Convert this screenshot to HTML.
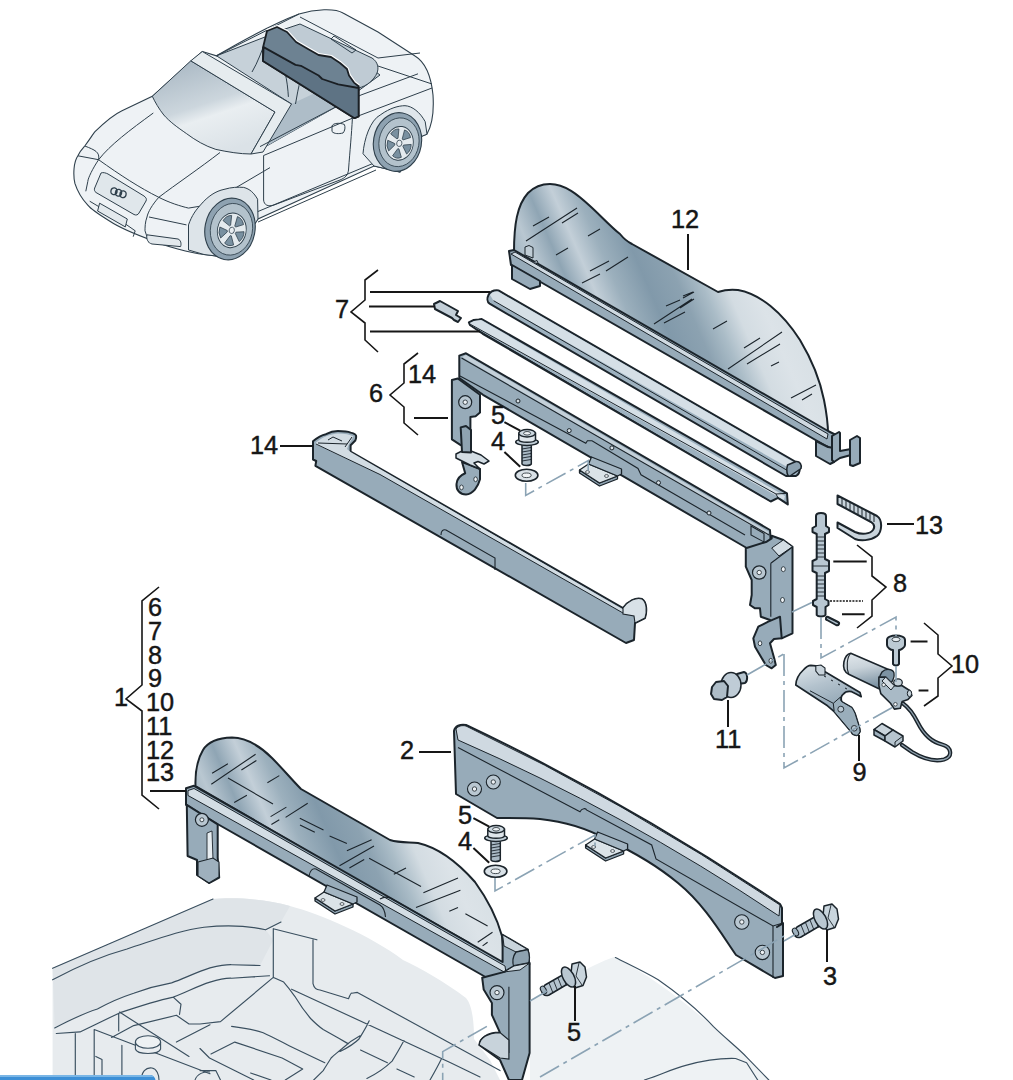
<!DOCTYPE html>
<html><head><meta charset="utf-8">
<style>
html,body{margin:0;padding:0;background:#fff;width:1013px;height:1080px;overflow:hidden}
svg{display:block}
text{font-family:"Liberation Sans",sans-serif;fill:#161616;stroke:#161616;stroke-width:0.45}
.o{stroke:#1b242b;stroke-width:2;stroke-linejoin:round;stroke-linecap:round}
.m{fill:#97abb9}
.ml{fill:#cfd9e1}
.md{fill:#8599a8}
.t{stroke:#1b242b;stroke-width:1.1;fill:none}
.ld{stroke:#161616;stroke-width:2;fill:none}
.br{stroke:#161616;stroke-width:1.6;fill:none;stroke-linejoin:miter}
.da{stroke:#8ba3b4;stroke-width:1.6;fill:none;stroke-dasharray:22 5 4 5}
.cl{stroke:#2e3f4b;stroke-width:1;fill:none}
</style></head><body>
<svg width="1013" height="1080" viewBox="0 0 1013 1080">
<defs>
<linearGradient id="g12" x1="505" y1="300" x2="835" y2="157" gradientUnits="userSpaceOnUse">
<stop offset="0.07" stop-color="#9fb3c0"/>
<stop offset="0.12" stop-color="#b9c7d1"/>
<stop offset="0.18" stop-color="#8fa5b4"/>
<stop offset="0.24" stop-color="#c3cfd8"/>
<stop offset="0.30" stop-color="#9cb0bd"/>
<stop offset="0.38" stop-color="#8199aa"/>
<stop offset="0.46" stop-color="#8ca2b1"/>
<stop offset="0.52" stop-color="#aabcc7"/>
<stop offset="0.58" stop-color="#d3dce2"/>
<stop offset="0.65" stop-color="#dce3e8"/>
<stop offset="0.72" stop-color="#d8e0e5"/>
</linearGradient>
<linearGradient id="g1" x1="185" y1="845" x2="515" y2="702" gradientUnits="userSpaceOnUse">
<stop offset="0.07" stop-color="#9fb3c0"/>
<stop offset="0.12" stop-color="#b9c7d1"/>
<stop offset="0.18" stop-color="#8fa5b4"/>
<stop offset="0.24" stop-color="#c3cfd8"/>
<stop offset="0.30" stop-color="#9cb0bd"/>
<stop offset="0.38" stop-color="#8199aa"/>
<stop offset="0.46" stop-color="#8ca2b1"/>
<stop offset="0.52" stop-color="#aabcc7"/>
<stop offset="0.58" stop-color="#d3dce2"/>
<stop offset="0.65" stop-color="#dce3e8"/>
<stop offset="0.72" stop-color="#d8e0e5"/>
</linearGradient>
<g id="tab">
<path fill="#8fa3b1" stroke="#1b242b" stroke-width="1.3" stroke-linejoin="round" d="M0,0 V3 L20,16 L38,9 V6 L20,13 Z"/>
<path fill="#dbe3e8" stroke="#1b242b" stroke-width="1.3" stroke-linejoin="round" d="M0,0 L9,-6 L38,6 L20,13 Z"/>
<path fill="#a3b5c2" stroke="#1b242b" stroke-width="1.3" stroke-linejoin="round" d="M9,-6 L12,-13 L42,-1 L42,4 L38,6 Z"/>
<ellipse cx="8" cy="2" rx="2" ry="1.4" fill="#f1f4f6" stroke="#1b242b" stroke-width="0.7"/>
<ellipse cx="27" cy="6" rx="2" ry="1.4" fill="#f1f4f6" stroke="#1b242b" stroke-width="0.7"/>
</g>
</defs>

<!-- FLOOR -->
<g id="floor">
<path fill="#e7ebee" d="M52.6,968 L213,899 C235,897 265,899 290,906 C320,914 370,935 403,960 C420,968 445,982 466,998 C472,1005 474,1020 474,1039 L490,1060 L500,1080 L52.6,1080 Z"/>
<path fill="#dfe4e8" d="M52.6,968 L213,899 C235,897 265,899 290,906 L281,922 L265.6,929.8 L273.3,940 L260,965.5 L231.6,964.7 C225,964.5 218,966 210,967.9 C197,972 185,978 171.6,982.9 C160,985 148,988 133.7,993.2 C122,997 110,1002 97.4,1009 C85,1013 70,1020 54.7,1027.9 Z"/>
<path fill="#eef2f4" d="M530,1000 C560,985 590,965 614,957 C660,980 700,1015 740,1050 L768,1080 L530,1080 Z"/>
<path fill="none" stroke="#3a4f5f" stroke-width="1.15" stroke-linejoin="round" stroke-linecap="round" d="
M52.6,968.3 L213,899
M52.6,979.8 C80,965 105,955 127,949 C155,940 180,930 204,927.2 C225,925 245,925 265.6,929.8 L281,922
M54.7,1027.9 C70,1020 85,1013 97.4,1009 C110,1002 122,997 133.7,993.2 C148,988 160,985 171.6,982.9 C185,978 197,972 210,967.9 C218,966 225,964.5 231.6,964.7 L260,965.5
M56.3,1033.5 L80,1031.9 L119.5,1012.9 C140,1006 160,1000 173.2,997.1 C185,993 197,986 210,982.1 C220,979 226,978 231.6,978.2 L269.5,975.8
M273.3,928.5 V977.4 L220.5,1021.6 L200,1024
M173.2,997.1 L181,1004.2 L179.5,1014.5
M111.6,1037.4 L133.7,1025.6 L176.4,1015.3 L189,1024 L200,1024
M119.5,1012.1 L189,1056.4 M94.2,1029.5 L210,1073.7
M75.3,1033.5 V1080 M118.7,1013.7 V1031 M94.2,1029.5 V1080 M121.9,1045.3 V1080
M176.4,1042.1 L210,1024.8
M95.8,1056.4 L102,1059.5 V1080
M273.5,977.4 L283.7,982.1 C288,987 291,991 294.8,996.3 C300,1005 305,1012 310.6,1018.5 C315,1023 318,1026 323.2,1029.5 L348.5,1043.7
M291.6,989.2 L450.6,1062.7 L480,1077
M274.2,929 L316.9,939.8 M313,939.8 V983.7 C314,988 317,990 320,990 L348.5,998.7 C350,995 351,993 351.7,993.2 L357.4,992.4 L500,1070.6
M231.6,1026.4 C245,1028 255,1030 263.2,1032.7 C275,1038 285,1044 294.8,1048.5 L324.8,1062.7
M211,1054 L234.8,1042.1 L282.1,1058 L302.7,1069 L285.3,1080
M200,1048.5 L209.5,1058 L253.7,1080
M360,1035.8 C352,1040 346,1045 342.2,1048.5 C337,1053 334,1055 331.1,1058 C328,1063 326,1066 323.2,1070.6 L313.7,1080
M250.6,1073 L271,1080
M200,1070.6 L215.8,1070.6 L220.5,1080
M369.2,1020.8 C366,1028 362,1034 359,1039 C353,1045 347,1048 340,1051.6
M340,1039 L347.9,1043.7
M404,1040.6 C400,1048 396,1055 392.1,1061.1 C385,1068 376,1074 366.9,1078.5
M360.5,1050 L387.4,1062.7
M396.9,1069 L414.2,1076.9
M441.1,1059.5 C438,1066 434,1073 430,1080
M615.4,957.6 C630,965 645,972 658.2,979.8 C680,995 700,1012 713.5,1026.7 C725,1038 738,1048 746.6,1057.1 L768.8,1080
M644.4,1080 C660,1075 672,1069 685.8,1065.4 C705,1060 720,1058 735.6,1058.5 L746.6,1062.7 L757.7,1080
"/>
<path fill="#e9edf0" stroke="#3a4f5f" stroke-width="1.1" d="M135.4,1042 V1049 C137,1055 159,1055 160.6,1049 V1042"/>
<ellipse cx="148" cy="1042" rx="12.6" ry="6.3" fill="#edf1f3" stroke="#3a4f5f" stroke-width="1.1"/>
<path fill="none" stroke="#3a4f5f" stroke-width="1.1" d="M141.6,1080 C141,1072 146,1067 152,1068 C157,1069 159,1075 159,1080 M195,1080 C197,1074 204,1071 210,1072"/>
<path class="da" d="M486.9,1026.4 L442.7,1051.6 V1080"/>
<path fill="#3d8fd6" d="M0,1075 H150 C153,1075 155,1077 155.5,1080 H0 Z"/>
<path fill="#7ab6e6" d="M0,1075 H150 C152,1075 153,1076 154,1077 H0 Z"/>
</g>

<!-- CAR -->
<g id="car">
<defs>
<linearGradient id="gws" x1="200" y1="60" x2="230" y2="150" gradientUnits="userSpaceOnUse">
<stop offset="0" stop-color="#aebcc7"/><stop offset="0.45" stop-color="#ccd6dd"/><stop offset="0.6" stop-color="#e9eef1"/><stop offset="1" stop-color="#dbe2e7"/>
</linearGradient>
</defs>
<path fill="#eef2f5" stroke="#2e3f4b" stroke-width="1.1" d="M202.3,51.5 L216.5,55.8 C240,42 270,25 299,14 C315,9 335,8 343,13 L378,32 L415,56 C425,62 431,75 433,95 C434,110 432,125 427,134 L420,137 L400,172 L374,166 L258,219 L232,258 L204,254.5 C190,253 165,246 152.9,240.7 C140,236 120,228 109.5,221 C98,214 90,208 87.8,205.2 C82,199 77,190 74.9,183.4 C73,175 73.5,162 77.9,155.8 C80,151 83,148 84.8,146 C90,139 93,134 95,131.7 C105,122 115,114 122,110.8 L152.3,96.3 Z"/>
<!-- interior -->
<path fill="#c6d1d9" stroke="#2e3f4b" stroke-width="1" d="M216.5,55.8 L283,30 L300,27 L360,60 L380,75 L338,105.7 L263,148 L275,112 L291.5,104 Z"/>
<path fill="#aebdc8" d="M291.5,104 L330,86 L338,105.7 L263,148 Z"/>
<path fill="#bfcbd4" stroke="#2e3f4b" stroke-width="1" d="M282,30 L300,24 L372,58 C378,62 379,68 377,73 C374,80 367,86 358.6,88 Z"/>
<path fill="none" stroke="#2e3f4b" stroke-width="1" d="M216.5,55.8 L299,14 M300,17 L378,58 L420,53 M378,66 L432,84 M284.9,72 C287,80 288,90 288.4,96.9 M300.9,79 C298,88 297,96 295.5,104 M266,40 C262,50 258,62 252,72 M334,36 L356,50 L352,53 L331,39 Z"/>
<!-- windshield -->
<path fill="url(#gws)" stroke="#2e3f4b" stroke-width="1" d="M190.8,60.8 L275,112 L251,154 C240,154 228,152 215.8,149.4 C205,146 195,140 186.7,133.75 C177,127 170,122 163.8,115 C159,109 155,102 152.3,96.3 Z"/>
<path fill="#e6ecef" stroke="#2e3f4b" stroke-width="1" d="M190.8,60.8 L202.3,51.5 L291.5,104 L263,152 L251,154 L275,112 Z"/>
<!-- side -->
<path fill="none" stroke="#2e3f4b" stroke-width="1" d="M260,146.6 L338.2,105.7 L361,95 L418,73.8 M263.6,155.5 L352.4,118.2 L432,88 M263.6,155.5 V200 C264,205 268,207 274,205 L340,180 C345,178 348,175 348.5,170 C350,150 351.5,135 352.4,118.2 M252,214 L374,163 M258,222 L376,170 M206.2,205.2 L270,167.6 M332,126 C333,123 340,122.5 344.4,124.5 C345.5,127 345,131 343,133 C339,134 334,134 332,131.5 Z"/>
<path fill="#dfe6eb" stroke="#2e3f4b" stroke-width="1" d="M363,153.7 C364,140 370,120 380.8,114.6 C390,108 398.6,105.7 405,105.7 C412,106 420,112 425.2,121.7 L427,134.2 L420,137 L400,172 L374,166 Z"/>
<!-- front -->
<path fill="none" stroke="#2e3f4b" stroke-width="1" d="M153.3,113 C130,130 110,145 98.6,159.7 C93,168 88,178 87.8,181.5 L85.8,191.3 M77.9,155.8 L98.6,159.7 C120,175 140,188 158.8,197.3 C170,203 180,206 188.5,208.1 L206.2,205.2 M220,152.5 C200,168 175,185 158.8,197.3 C152,205 148,212 147,217 C145,222 145,228 145,230.8 L149,242.7 M149,217 L186.5,224.9 M89.7,201.2 C105,210 120,220 135.2,230.8 L133.2,236.7 M84.8,146 C95,150 100,152 98.6,159.7"/>
<path fill="#e0e7eb" stroke="#2e3f4b" stroke-width="1" d="M101,173 C103,172 106,173 108,174 L144,196 C146,197.5 147,199 146,201 L139,213 C138,215 136,215.5 134,214.5 L96,192.5 C94.5,191.5 94,189.5 94.7,188 Z"/>
<path fill="none" stroke="#2e3f4b" stroke-width="1.3" d="M111,190.5 a3,3.3 0 1 0 6,1.5 a3,3.3 0 1 0 -6,-1.5 M115.5,192 a3,3.3 0 1 0 6,1.5 a3,3.3 0 1 0 -6,-1.5 M120,193.5 a3,3.3 0 1 0 6,1.5 a3,3.3 0 1 0 -6,-1.5"/>
<path fill="#e3e9ed" stroke="#2e3f4b" stroke-width="1" d="M99.6,203.2 L127.3,219 L125.3,226.9 L97.6,211 Z"/>
<path fill="#e3e9ed" stroke="#2e3f4b" stroke-width="1" d="M147,234.8 L178,239 C181,240 181.5,244 180.6,246.6 L152,244 C148,243 146,239 147,234.8 Z"/>
<path fill="#dde4e9" stroke="#2e3f4b" stroke-width="1" d="M188.5,224.9 C192,215 196,210 200.3,205.2 C208,196 216,191 224,189.4 C232,187 238,187 243.7,187.4 C250,189 254,193 257.6,199.2 L258,219 L232,258 L204,254.5 L188.5,250 Z"/>
<g transform="translate(230,229) rotate(11)">
<ellipse rx="25" ry="31" fill="#8ea2b1" stroke="#2e3f4b" stroke-width="1.1"/>
<ellipse cx="1.5" rx="21" ry="26" fill="#b3c2cc" stroke="#2e3f4b" stroke-width="0.8"/>
<g transform="translate(2,1) scale(0.82,1)">
<circle r="17.5" fill="#e4eaee" stroke="#2e3f4b" stroke-width="1"/>
<path d="M2.6,-4.8 L3.6,-14.6 Q10.0,-13.8 12.7,-7.9 L3.8,-4.0 Z M5.4,1.0 L15.0,-1.0 Q16.2,5.3 11.5,9.6 L5.0,2.4 Z M0.7,5.5 L5.6,13.9 Q0.0,17.0 -5.6,13.9 L-0.7,5.5 Z M-5.0,2.4 L-11.5,9.6 Q-16.2,5.3 -15.0,-1.0 L-5.4,1.0 Z M-3.8,-4.0 L-12.7,-7.9 Q-10.0,-13.8 -3.6,-14.6 L-2.6,-4.8 Z " fill="#7990a0" stroke="#2e3f4b" stroke-width="0.8" stroke-linejoin="round"/>
<circle r="3.2" fill="#e8edf1" stroke="#2e3f4b" stroke-width="0.8"/>
</g>
</g>
<g transform="translate(397.5,142) rotate(10)">
<ellipse rx="24" ry="29.5" fill="#8ea2b1" stroke="#2e3f4b" stroke-width="1.1"/>
<ellipse cx="1.5" rx="20" ry="24.5" fill="#b3c2cc" stroke="#2e3f4b" stroke-width="0.8"/>
<g transform="translate(2,1) scale(0.82,1)">
<circle r="17" fill="#e4eaee" stroke="#2e3f4b" stroke-width="1"/>
<path d="M2.6,-4.8 L3.5,-14.1 Q9.7,-13.3 12.3,-7.7 L3.8,-4.0 Z M5.4,1.0 L14.5,-1.0 Q15.7,5.1 11.1,9.3 L5.0,2.4 Z M0.7,5.5 L5.4,13.4 Q0.0,16.5 -5.4,13.4 L-0.7,5.5 Z M-5.0,2.4 L-11.1,9.3 Q-15.7,5.1 -14.5,-1.0 L-5.4,1.0 Z M-3.8,-4.0 L-12.3,-7.7 Q-9.7,-13.3 -3.5,-14.1 L-2.6,-4.8 Z " fill="#7990a0" stroke="#2e3f4b" stroke-width="0.8" stroke-linejoin="round"/>
<circle r="3.2" fill="#e8edf1" stroke="#2e3f4b" stroke-width="0.8"/>
</g>
</g>
<!-- dark deflector -->
<path fill="none" stroke="#ffffff" stroke-width="4" stroke-linejoin="round" d="M267,31 L277,27 L287,32 L296,42 L308,49 L318.6,55 L331,57 L340,63 L347,69 L349,75.5 L354,82.6 L358.6,86.2"/>
<path fill="#6d8292" stroke="#1a1f24" stroke-width="1.8" stroke-linejoin="round" d="M263,47.5 L267,31 L277,27 L287,32 L296,42 L308,49 L318.6,55 L331,57 L340,63 L347,69 L349,75.5 L354,82.6 L358.6,86.2 L358.6,116.4 L354.5,118.2 L263,61 Z"/>
<path fill="#5e7384" stroke="#1a1f24" stroke-width="1.8" stroke-linejoin="round" d="M263.6,47.1 L295.5,64.9 L300.9,65.8 L318.6,75.5 L322.2,79 L338.2,84.4 L358.6,88 L358.6,116.4 L354.5,118.2 L263,61 Z"/>
</g>

<!-- DEFLECTOR 12 -->
<g id="p12">
<path class="o" stroke-width="1.8" fill="url(#g12)" d="M514,252 C514,225 517,205 528,193 C535,186 542,184 550,184 C565,184 578,195 590,206 C600,215 612,228 620,234 C624,239 628,242 632,244 L718,292 C724,290 730,289 738,290 C760,294 782,312 800,340 C812,360 820,380 824,400 C827,415 828,425 828,434 Z"/>
<path fill="none" stroke="#1b242b" stroke-width="1.1" d="M533,226 L549,217 M526,241 L577,208 M562,223 L578,213 M588,236 L600,229 M556,255 L568,248 M590,271 L609,261 M582,283 L600,274 M606,271 L628,257 M666,306 L680,300 M654,324 L692,299 M664,323 L685,312 M683,296 L693,292 M683,298 L694,292 M680,308 L694,299 M713,329 L727,321 M744,348 L760,338 M728,369 L782,332 M747,364 L780,344 M771,366 L779,362 M791,398 L816,385 M802,400 L812,394"/>
<path class="o m" stroke-width="1.8" d="M509,251 L514,250 L828,431 L838,436 L838,452 L826,446 L511,265 Z"/>
<path fill="#cfd9e1" stroke="#1b242b" stroke-width="1" d="M511,254 L515,252 L828,434 L827,439 Z"/>
<path class="o m" stroke-width="1.6" d="M512,265 L540,281 L540,286 L530,289 L512,279 Z"/>
<path fill="#bfccd5" stroke="#1b242b" stroke-width="1" d="M525,247 L529,245.5 L533,247.5 L533,258 L525,255 Z M533,262 L537,260.5 L538,263"/>
<path class="o m" stroke-width="1.6" d="M816,441 L828,447 L834,448 L834,462 L830,464 L816,456 Z"/>
<path class="o m" stroke-width="1.6" d="M832,436 L839,432 L840,433 L840,451 L851,449 L851,455 L840,458 L834,462 L832,460 Z"/>
<path class="o m" stroke-width="1.6" d="M850,440 L857,436 L860,438 L860,463 L853,466 L850,465 Z"/>
</g>

<!-- BARS 7 -->
<g id="p7">
<path class="o" fill="#9db1bf" stroke-width="1.8" d="M488.6,294.8 C490,292 494,290 498.5,290.4 L796,462 C801,465 801,473 796,476 L786,476 L489.6,303.7 C487,302 487,298 488.6,294.8 Z"/>
<path fill="#d5dfe6" d="M490,295 C492,292 495,291 498,291.5 L795,463 C799,465 799,470 796,472 L493.6,300.7 Z"/>
<path fill="none" stroke="#1b242b" stroke-width="1" d="M493.6,300.7 L790,472"/>
<path fill="#8ca1b0" stroke="#1b242b" stroke-width="1.5" stroke-linejoin="round" d="M787.5,465 L796,461.5 C800,461 802,465 801,468.5 L790,476 C787,477 786,470 787.5,465 Z"/>
<path class="o" fill="#9db1bf" stroke-width="1.8" d="M468.9,322.4 L473.8,320 L478.8,319.5 L481.7,319 L787,493.3 L787.8,504.4 L778,497.8 L770.7,501.5 L482.7,333.8 L469.9,325 Z"/>
<path fill="#d5dfe6" d="M470,323 L474,321 L481,320 L785,496 L784,500 L471,325 Z"/>
<path fill="none" stroke="#1b242b" stroke-width="1" d="M469.9,324 L776,494 L787,493.3 M478,330 L770.7,501.5 M776,494 L778,497.8"/>
<path class="o" fill="#c3cfd8" stroke-width="1.5" d="M434,304 L440,301 L458,311 L456,315 L461,318 L458,322 L454,320 L452,318 L435,309 Z"/>
</g>

<!-- FRAME 6 -->
<g id="p6">
<!-- rail -->
<path class="o m" d="M459.3,355.6 L466,353.3 L770,530 L772,562 L745,547 L483,394.8 L459.3,378 Z"/>
<path fill="#c4d0d9" d="M462,357 L466,355 L769,532 L767,535 Z"/>
<path class="t" d="M461.5,358 L769,535 M460,376 L585.8,443.2 L587.4,440.8 L592,440.8 L638,468.5 L641,474.8 L745,535"/>
<path fill="#d6dfe5" stroke="#1b242b" stroke-width="1" d="M569.2,430.6 m-2,0 a2,2 0 1 0 4,0 a2,2 0 1 0 -4,0 M611.9,447.9 m-2,0 a2,2 0 1 0 4,0 a2,2 0 1 0 -4,0 M658.5,482.7 m-2,0 a2,2 0 1 0 4,0 a2,2 0 1 0 -4,0 M709,513 m-2,0 a2,2 0 1 0 4,0 a2,2 0 1 0 -4,0 M518,401 m-2,0 a2,2 0 1 0 4,0 a2,2 0 1 0 -4,0"/>
<path class="t" d="M751,526 L764,533.5 V542 L751,535 Z"/>
<!-- tab -->
<use href="#tab" x="579.5" y="470"/>
<!-- left plate -->
<path class="o m" d="M451.9,380 L457.8,378.5 L480,394.8 L480,412.6 L475.6,416.3 L470.4,417 L470.4,449.6 L460.7,445.2 L451.9,439.3 Z"/>
<path class="o m" stroke-width="1.6" d="M462,462 L470,465 L480,469 L480,479.3 C478,487 473,494 466,494.5 C460,494.5 456,490 456.5,484 C457,479 461,475 465.2,473.3 Z"/>
<path fill="#d3dde4" stroke="#1b242b" stroke-width="1.5" stroke-linejoin="round" d="M456,454 L466,449 L481,455 L489,461 L484,464 L478,461.5 L474,463 L480,469 L470,465 L456,458 Z"/>
<path class="o" fill="#8fa3b1" stroke-width="1.4" d="M460.7,427.4 L466,426 L471,430 L471,452.6 L462,452 Z"/>
<circle cx="465.2" cy="402.2" r="6.5" fill="#b9c7d1" stroke="#1b242b" stroke-width="1.2"/>
<circle cx="465.2" cy="402.2" r="2.2" fill="#eef2f5" stroke="#1b242b" stroke-width="0.8"/>
<ellipse cx="461.5" cy="487.4" rx="1.8" ry="2.4" fill="#eef2f5" stroke="#1b242b" stroke-width="0.8"/>
<ellipse cx="475.6" cy="479.3" rx="1.8" ry="2.4" fill="#eef2f5" stroke="#1b242b" stroke-width="0.8"/>
<!-- right post -->
<path class="o m" d="M745.8,548.3 L766.7,541.7 L771.7,538.3 L771.7,535.8 L783.3,540 L792.5,546.7 L792.5,633.3 L781.7,638.3 L770,620 L760.8,616.7 L760,608.3 L755,608.3 L750,605 L751.7,595 L751.7,580 L745.8,566.7 Z"/>
<path fill="#d3dde4" stroke="#1b242b" stroke-width="1" d="M771.7,548 L783.3,540 L792.5,546.7 L779,556 Z"/>
<path class="t" d="M770.8,563.3 V616.7 M770.8,563.3 L792.5,547"/>
<circle cx="759.2" cy="572.5" r="6.7" fill="#b9c7d1" stroke="#1b242b" stroke-width="1.2"/>
<circle cx="759.2" cy="572.5" r="2.2" fill="#eef2f5" stroke="#1b242b" stroke-width="0.8"/>
<ellipse cx="783.3" cy="569.2" rx="2" ry="2.5" fill="#eef2f5" stroke="#1b242b" stroke-width="0.8"/>
<ellipse cx="782.5" cy="600" rx="2" ry="2.5" fill="#eef2f5" stroke="#1b242b" stroke-width="0.8"/>
<!-- right foot -->
<path class="o m" stroke-width="1.6" d="M758.3,626.7 L768.3,621.7 L780,616.7 L781.7,638.3 L774,639 L770,643.3 L774.2,658.3 L775.8,665 L771.7,668.3 L765.8,665 L755,646.7 L753.3,638.3 Z"/>
<ellipse cx="760" cy="643.3" rx="1.8" ry="2.4" fill="#eef2f5" stroke="#1b242b" stroke-width="0.8"/>
<ellipse cx="770.8" cy="660.8" rx="1.8" ry="2.4" fill="#eef2f5" stroke="#1b242b" stroke-width="0.8"/>
</g>

<!-- PART 14 -->
<g id="p14">
<path class="o m" stroke-width="1.8" d="M313,441.3 C318,437 322,435 326,434.2 C330,432 334,431 337.9,431 C344,431 348,431.5 350.6,432.6 C354,433.5 356,434.5 356,435.8 C356.5,438 356,439 355.3,440.5 L350.6,445.3 L350.6,451.6 L623,608 C628,601 636,597 642,599 C647,602 647,612 645,618 L635,623 L634,640 L626,643 L315.4,465.8 L316.2,461 L313,459.5 Z"/>
<path fill="#d2dce3" d="M316,442.5 C322,437.5 330,434 338,433.5 C345,433.5 350,434.5 353.5,436.5 L349,444 L347,449 L350.6,452 L623,609.5 L623,613 L380,474.5 L316,444.5 Z"/>
<path fill="none" stroke="#1b242b" stroke-width="1" d="M316,444 L380,474.5 L623,613 M318,443 L347,444 M328,440 L333,437 L342,441 M345,447 L352,437"/>
<path fill="#d8e1e7" stroke="#1b242b" stroke-width="1.1" d="M623,608 C628,601 636,597 642,599 C647,602 647,612 645,618 L635,623 L634,616 L623,614 Z"/>
<path fill="none" stroke="#1b242b" stroke-width="1.1" d="M441,535 C441,531 443,529 446,530 L495,558 V570"/>
</g>

<!-- SMALL PARTS RIGHT -->
<g id="parts">
<!-- strap 13 -->
<path class="o" fill="#c9d4dc" stroke-width="1.6" d="M837.5,495.5 L877,516 C883,520 882,532 877,536 C870,541 860,541 855,539 L837.5,528 L837.5,522.5 L855,532 C862,535 870,534 873,530 C875,527 874,524 871,522 L837.5,504 Z"/>
<path fill="none" stroke="#1b242b" stroke-width="1" d="M842,498 V506 M846,500 V508 M850,502 V510 M854,504 V512 M858,506 V514 M862,508 V516 M866,510 V518 M870,512 V520 M874,514 V522"/>
<!-- rod 8 -->
<path class="o" fill="#b8c7d2" stroke-width="1.5" d="M816,516 C816,512 826,512 826,516 V526 L829,528 V532 L825,534 V559 L829,561 V571 L825,573 V599 L828.5,601 V605 L825.5,607 V615 C824,617 818,617 816.7,615 V607 L813,605 V601 L816.7,599 V573 L812.5,571 V561 L816.7,559 V534 L812.5,532 V528 L816,526 Z"/>
<path fill="none" stroke="#1b242b" stroke-width="0.9" d="M817,537 H825 M817,541 H825 M817,545 H825 M817,549 H825 M817,553 H825 M817,557 H825 M817,576 H825 M817,580 H825 M817,584 H825 M817,588 H825 M817,592 H825 M817,596 H825 M813,566 H829"/>
<path class="o" fill="#aebfcb" stroke-width="1.4" d="M828,617 L838,622 C840,623 839,626 836,625 L827,620 C825,619 826,616 828,617 Z"/>
<!-- bolt 10 -->
<path class="o" fill="#bccad4" stroke-width="1.4" d="M887,640 C887,634 905,634 905,640 V645 C905,648 900,650 899,650 V664 C898,666 894,666 893,664 V650 C891,650 887,648 887,645 Z"/>
<ellipse cx="896" cy="639.5" rx="4" ry="2.2" fill="#e6ecf0" stroke="#1b242b" stroke-width="0.8"/>
<!-- motor -->
<defs>
<linearGradient id="gcyl" x1="0" y1="0" x2="0.25" y2="1">
<stop offset="0" stop-color="#e3e9ed"/><stop offset="0.45" stop-color="#c9d3da"/><stop offset="1" stop-color="#7f95a5"/>
</linearGradient>
<linearGradient id="gcov" x1="0" y1="0" x2="0.3" y2="1">
<stop offset="0" stop-color="#dfe6eb"/><stop offset="0.35" stop-color="#b3c2cd"/><stop offset="1" stop-color="#7890a1"/>
</linearGradient>
</defs>
<path fill="url(#gcyl)" stroke="#1b242b" stroke-width="1.6" stroke-linejoin="round" d="M850.7,653.3 L892.5,671.2 L878.9,688.7 L848.7,674.2 C844,672 843,667 843.9,662 C845,657 847,654 850.7,653.3 Z"/>
<path fill="none" stroke="#1b242b" stroke-width="1.1" d="M850.7,653.3 C847,657 846,667 848.7,674.2"/>
<path fill="#7d93a3" stroke="#1b242b" stroke-width="1.3" d="M882,672 C886,668 893,669 894,673 C895,680 889,688 881,689 C878,683 879,676 882,672 Z"/>
<path fill="#a9bac6" stroke="#1b242b" stroke-width="1.6" stroke-linejoin="round" d="M878.9,677.1 L885.7,677.1 L894.4,685.8 L902.2,685.8 L910,690.7 L911.9,695.5 L908,699.4 L902.2,701.4 L900.3,708.2 L894.4,709.1 L890.5,703.3 L880.8,693.6 L878.9,685.8 Z"/>
<path fill="#d3dce3" stroke="#1b242b" stroke-width="1" d="M885.7,677.1 L894.4,685.8 L891,690 L882,681 Z"/>
<circle cx="883.7" cy="684.8" r="1.8" fill="#f1f4f6" stroke="#1b242b" stroke-width="0.7"/>
<circle cx="895.4" cy="704.3" r="1.8" fill="#f1f4f6" stroke="#1b242b" stroke-width="0.7"/>
<ellipse cx="898" cy="682.5" rx="4.3" ry="3.6" fill="#c5d1d9" stroke="#1b242b" stroke-width="1.2"/>
<ellipse cx="909.5" cy="693.5" rx="2.2" ry="3.2" fill="#c5d1d9" stroke="#1b242b" stroke-width="1"/>
<path fill="none" stroke="#1b242b" stroke-width="4.2" stroke-linecap="round" d="M903,703.5 C908,707 913,713 918,723 C924,735 932,742 942,744.5 C952,747 953,757 944,759.5 C934,762 922,758 912,752 L902,745"/>
<path fill="none" stroke="#8fa1ae" stroke-width="1.3" stroke-linecap="round" d="M903,703.5 C908,707 913,713 918,723 C924,735 932,742 942,744.5 C952,747 953,757 944,759.5 C934,762 922,758 912,752 L902,745"/>
<path fill="#c9d4dc" stroke="#1b242b" stroke-width="1.5" stroke-linejoin="round" d="M874,729.5 L882,723.5 L893,730 L885,736 Z"/>
<path fill="#9fb1be" stroke="#1b242b" stroke-width="1.5" stroke-linejoin="round" d="M874,729.5 L885,736 L885,741 L874,735 Z"/>
<path fill="#b7c5cf" stroke="#1b242b" stroke-width="1.5" stroke-linejoin="round" d="M885,736 L893,730 L903,736 L903,741 L895,747 L885,741 Z"/>
<path fill="none" stroke="#1b242b" stroke-width="1" d="M895,742 V747 M895,742 L903,736"/>
<!-- cover 9 -->
<path fill="url(#gcov)" stroke="#1b242b" stroke-width="1.7" stroke-linejoin="round" d="M795.8,685 C796,680 799,674 803.3,670 C806,667 809,665.4 810.8,665.4 L815.8,665.8 L825,671.7 L860,692.5 L861.2,696.7 L856.7,694.2 L851.7,691.7 C848,691 845,692 843.3,694.2 C841,696 840.5,698 841.7,701.7 L851.7,707.5 C853,709 854,711 855,713.3 L859.2,726.7 C860,729 860,731 860,731.7 C859,734 858,735 856.7,735.4 C854,735 852,734 851.7,732.5 L834.2,711.7 L827.5,705.8 Z"/>
<path fill="#9aaebb" stroke="#1b242b" stroke-width="1" d="M833.3,703.3 L840.5,697 C840,699 840.5,700.5 841.7,701.7 L851.7,707.5 C853,709 854,711 855,713.3 L859.2,726.7 C860,729 860,731 860,731.7 C859,734 858,735 856.7,735.4 C854,735 852,734 851.7,732.5 L834.2,711.7 Z"/>
<path fill="#c8d3db" stroke="#1b242b" stroke-width="1.1" d="M815.8,665.8 L821,665 L825,668 L825,675 L819,675 L815.8,671 Z"/>
<path fill="none" stroke="#1b242b" stroke-width="1" d="M810,690.8 L833.3,703.3 M824,676 L826,677 M831,680 L833,681 M838,684 L840,685 M845,688 L847,689"/>
<circle cx="840.8" cy="709.2" r="3" fill="#b9c7d1" stroke="#1b242b" stroke-width="0.9"/>
<circle cx="854.2" cy="728.3" r="2.8" fill="#b9c7d1" stroke="#1b242b" stroke-width="0.9"/>
<!-- bolt 11 -->
<path class="o" fill="#b6c5cf" stroke-width="1.5" d="M737,674 L744,672 C748,673 748,681 745,683 L738,684 Z"/>
<ellipse cx="731" cy="685" rx="10" ry="12.5" fill="#bfccd6" stroke="#1b242b" stroke-width="1.5"/>
<path class="o" fill="#aebdc8" stroke-width="1.5" d="M712,687 L716,682 L724,681 L728,686 L727,697 L722,700 L714,699 L711,694 Z"/>
</g>

<!-- DEFLECTOR 1 (bottom) -->
<g id="p1">
<path class="o" fill="url(#g1)" d="M195.5,786 C195,770 197,760 203,750 C208,742 218,738 232,737.6 C248,738 262,748 272,758 C283,769 292,780 301,789 L390,840 C400,843 410,842 418,843 C440,848 460,865 475,882 C488,900 497,918 502,936 L504.8,966 Z"/>
<path fill="none" stroke="#1b242b" stroke-width="1.1" d="M212.1,773.2 L227.9,763.7 M211.3,784.2 L255.6,754.2 M241.4,770 L256.4,760.5 M267.4,782.7 L279.3,775.6 M228,778 L273,804 M234.2,802.4 L246.9,795.3 M270.6,816.6 L286.4,807.1 M271.4,824.5 L279.3,819.8 M285.6,817.4 L307.7,803.2 M299.8,818.2 L323.5,830.1 M300,825 L314.8,832.3 M329.6,836 L346.9,843.4 M346.9,850.8 L371.6,839.7 M339.5,865.7 L374,846 M349.4,868 L364.2,859.5 M369.1,858.3 L421,886.6 M393.8,874.3 L406,868 M423.4,892.8 L458,878 M416,907.6 L460.4,890.3 M449.3,911.3 L458,907.6 M465.4,913.8 L487.6,926.1 M477.7,942.2 L492.5,932.3 M482.6,945.9 L487.6,942.2"/>
<!-- rail -->
<path class="o m" d="M186,788.2 L194,785.8 L502.6,962 L502.6,934.8 L527.8,949.6 L529.3,964.4 L513,986 L504.8,988 L218.4,824.5 L186,804.8 Z"/>
<path fill="#d3dde4" stroke="#1b242b" stroke-width="1" d="M188,790.5 L194,788.5 L505,966 L506,973 L188,795.5 Z"/>
<path fill="#c9d4dc" stroke="#1b242b" stroke-width="1" d="M502.6,934.8 L527.8,949.6 L516,952 L504,946 Z"/>
<path fill="#8ea2b0" stroke="#1b242b" stroke-width="1.3" d="M516,952 L527.8,949.6 C530,954 530,961 528,965 L514,968 C512,962 513,956 516,952 Z"/>
<path fill="#9fb1be" stroke="#1b242b" stroke-width="1" d="M504.8,972 L514,968 L513,986 L504.8,988 Z"/>
<path fill="none" stroke="#1b242b" stroke-width="1.1" d="M309,876 C310,871 312,868 316,869 L380,905 C383,907 385,911 385.5,917"/><path class="t" d="M380,899 C385,896 390,897 394,900 L470,943"/>
<!-- left post -->
<path class="o m" d="M186.8,804.8 L217.7,824.5 L217.7,857.7 L219.2,877.5 L209,883 L197,875 L197,860 L187.6,856 Z"/>
<path fill="#e7edf1" stroke="#1b242b" stroke-width="0.9" d="M207,833 L212,831 L213,860 L207,862 Z"/>
<path fill="#9eb0bd" stroke="#1b242b" stroke-width="1.1" d="M198,862 L213,858 L219,862 L219,877 L209,883 L198,876 Z"/>
<circle cx="201.9" cy="819.8" r="6.5" fill="#b9c7d1" stroke="#1b242b" stroke-width="1.2"/>
<circle cx="201.9" cy="819.8" r="2" fill="#eef2f5" stroke="#1b242b" stroke-width="0.8"/>
<!-- tab -->
<use href="#tab" x="315" y="898"/>
<!-- right post -->
<path class="o m" d="M482.2,977.8 L504.4,971.9 L514,966 L529.6,963 L529.6,1053 L522,1080 L508.9,1080 L500,1060 L479.3,1045 C480,1038 487,1033 500,1032.6 L491.9,1014.8 L491.9,1003 L483.7,989.6 Z"/>
<path fill="#d3dde4" stroke="#1b242b" stroke-width="1" d="M504.4,971.9 L514,966 L529.6,963 L520,970 Z"/>
<path class="t" d="M508.9,986.7 V1053"/>
<path fill="#c8d3db" stroke="#1b242b" stroke-width="1.2" d="M479.3,1045 C480,1038 487,1033 500,1032.6 L508.9,1040 L508.9,1059 L500,1058 Z"/>
<circle cx="497" cy="992.6" r="7" fill="#b9c7d1" stroke="#1b242b" stroke-width="1.2"/>
<circle cx="497" cy="992.6" r="2.2" fill="#eef2f5" stroke="#1b242b" stroke-width="0.8"/>
</g>

<!-- PART 2 -->
<g id="p2">
<path class="o m" d="M454,731 C455,726 460,724 466,725 Q623,799.5 780,904 L782,908 L782,924 L777,927 L783,923 L783,976 L775,978 L736,955 C722,935 705,905 678,883 C660,868 640,855 608,840 C590,830 570,822 540,819 C525,818 510,818 497,818 L456,794 Z"/>
<path fill="#cfd9e1" stroke="#1b242b" stroke-width="1" d="M456,729 C458,726 462,725 466,726 Q623,800.5 780,905 L779,916 Q623,812 458,740 Z"/>
<path class="t" d="M458,747.6 L580,811.7 C582,808 586,808 586.5,810 L651.7,845 L656,859 L773,926 L783,923"/>
<path class="t" d="M773,926 V978"/>
<circle cx="474.5" cy="789" r="7" fill="#b9c7d1" stroke="#1b242b" stroke-width="1.1"/>
<circle cx="474.5" cy="789" r="2.2" fill="#eef2f5" stroke="#1b242b" stroke-width="0.8"/>
<circle cx="493.3" cy="782" r="7" fill="#b9c7d1" stroke="#1b242b" stroke-width="1.1"/>
<circle cx="493.3" cy="782" r="2.2" fill="#eef2f5" stroke="#1b242b" stroke-width="0.8"/>
<circle cx="741.8" cy="922" r="7.2" fill="#b9c7d1" stroke="#1b242b" stroke-width="1.1"/>
<circle cx="741.8" cy="922" r="2.2" fill="#eef2f5" stroke="#1b242b" stroke-width="0.8"/>
<circle cx="762.4" cy="952.4" r="7.2" fill="#b9c7d1" stroke="#1b242b" stroke-width="1.1"/>
<circle cx="762.4" cy="952.4" r="2.2" fill="#eef2f5" stroke="#1b242b" stroke-width="0.8"/>
<use href="#tab" x="585.6" y="845"/>
</g>

<g id="bolts">
<g id="b5v">
<path fill="#a9b9c5" stroke="#1b242b" stroke-width="1.5" d="M522,445 H531.3 V464 C530,466 523,466 522,464 Z"/>
<path fill="none" stroke="#1b242b" stroke-width="0.9" d="M522,449 L531,447.5 M522,452 L531,450.5 M522,455 L531,453.5 M522,458 L531,456.5 M522,461 L531,459.5"/>
<ellipse cx="527" cy="442" rx="11.3" ry="3.4" fill="#c2cfd8" stroke="#1b242b" stroke-width="1.5"/>
<path fill="#dfe6eb" stroke="#1b242b" stroke-width="1.5" d="M518.8,433.3 V440 C520,443 534,443 535.5,440 V433.3 Z"/>
<ellipse cx="527.1" cy="433.3" rx="8.3" ry="3.7" fill="#cdd8e0" stroke="#1b242b" stroke-width="1.5"/>
<ellipse cx="527.1" cy="433.3" rx="3.5" ry="1.8" fill="#eef2f5" stroke="#1b242b" stroke-width="0.8"/>
<ellipse cx="526.6" cy="475.3" rx="11.3" ry="6" fill="#d9e1e7" stroke="#1b242b" stroke-width="1.6"/>
<ellipse cx="526.6" cy="475.3" rx="4.6" ry="2.3" fill="#f1f4f6" stroke="#1b242b" stroke-width="0.8"/>
</g>
<use href="#b5v" transform="translate(-31,396)"/>
<g id="b3">
<path fill="#b5c4cf" stroke="#1b242b" stroke-width="1.5" stroke-linejoin="round" d="M797,927 L818,915 L823,924 L801,937 C796,939 793,935 794,931 Z"/>
<path fill="none" stroke="#1b242b" stroke-width="0.9" d="M801,925 L805,935 M805.5,922.5 L809.5,932.5 M810,920 L814,930 M814.5,917.5 L818.5,927.5"/>
<ellipse cx="795.5" cy="932" rx="2.6" ry="4.2" transform="rotate(-30 795.5 932)" fill="#9fb1be" stroke="#1b242b" stroke-width="1.1"/>
<path fill="#c9d5dd" stroke="#1b242b" stroke-width="1.5" stroke-linejoin="round" d="M824,906 L832,904 L837,909 L838.5,919 L835,927.5 L827,930 L822,925 Z"/>
<ellipse cx="820.5" cy="919" rx="5.5" ry="11" transform="rotate(-28 820.5 919)" fill="#b9c7d1" stroke="#1b242b" stroke-width="1.5"/>
<path fill="none" stroke="#1b242b" stroke-width="0.9" d="M831,905 L828,918 L834,927"/>
</g>
<use href="#b3" transform="translate(-252,58)"/>
</g>
<g id="dashed">
<path class="da" d="M525.7,483 V495.4 L588.2,460.6 V474.8"/>
<path class="da" d="M495,878 V891 L595,835 V846"/>
<path class="da" d="M821,617 V658 L896,617 V636 M896,666 V682"/>
<path class="da" d="M784,654 V768 L895,706"/>
<path class="da" d="M747,675 L783.3,654.2"/>
<path class="da" d="M792,612 L813,602 M794.8,934.8 L784,941 M547,991 L530,1001"/>
<path class="da" d="M540,1077 L784,936"/>
</g>
<!-- LABELS -->
<g id="labels" font-size="25.3">
<text x="671" y="228">12</text>
<text x="335" y="318">7</text>
<text x="369" y="402">6</text>
<text x="408" y="383">14</text>
<text x="491" y="424">5</text>
<text x="491" y="450">4</text>
<text x="250" y="454">14</text>
<text x="915" y="534">13</text>
<text x="893" y="592">8</text>
<text x="951" y="673">10</text>
<text x="715" y="747.5">11</text>
<text x="852.5" y="781">9</text>
<text x="400" y="759">2</text>
<text x="458" y="824">5</text>
<text x="458" y="850">4</text>
<text x="823" y="985">3</text>
<text x="567" y="1041">5</text>
<text x="114" y="706">1</text>
<text x="148" y="616">6</text>
<text x="148" y="640">7</text>
<text x="148" y="664">8</text>
<text x="148" y="687">9</text>
<text x="146" y="711">10</text>
<text x="146" y="735">11</text>
<text x="146" y="759">12</text>
<text x="146" y="781">13</text>
</g>
<g id="leaders">
<path class="ld" d="M688,234 V270"/>
<path class="br" d="M378,270 L365,280 V300 L351,312 L365,323 V340 L378,352"/>
<path class="ld" d="M370,292 H490 M369,306.5 H435 M370,331.5 H480"/>
<path class="br" d="M418,353 L404,364 V383 L390,395 L404,407 V423 L418,435"/>
<path class="ld" d="M414,418 H448"/>
<path class="ld" d="M280,446 H313"/>
<path class="br" d="M159,587 L142,601 V685 L126,699 L142,711 V795 L159,809"/>
<path class="ld" d="M150,791 H186"/>
<path class="ld" d="M419,752 H451"/>
<path class="br" d="M857,545 L872,557 V576 L886,587 L872,600 V616 L857,628"/>
<path class="br" d="M924,623 L938,635 V654 L952,666 L938,678 V696 L924,706"/>
<path class="ld" d="M887,524 H914"/>
<path class="ld" d="M833.3,561.5 H866.7 M842,614.3 H864.6 M910.6,641.5 H927.5 M918.6,690.4 H928.4"/>
<path fill="none" stroke="#161616" stroke-width="1.3" stroke-dasharray="2 1.2" d="M830,601 H863"/>
<path class="ld" d="M504.4,422.2 L520.2,430.6 M504.4,451.9 L520.2,466.7 M473.4,818.2 L489.2,826.6 M473.4,847.9 L489.2,862.7"/>
<path class="ld" d="M728,700 V727 M859,735 V761 M827,930 V962 M575,986 V1021"/>
</g>
</svg>
</body></html>
